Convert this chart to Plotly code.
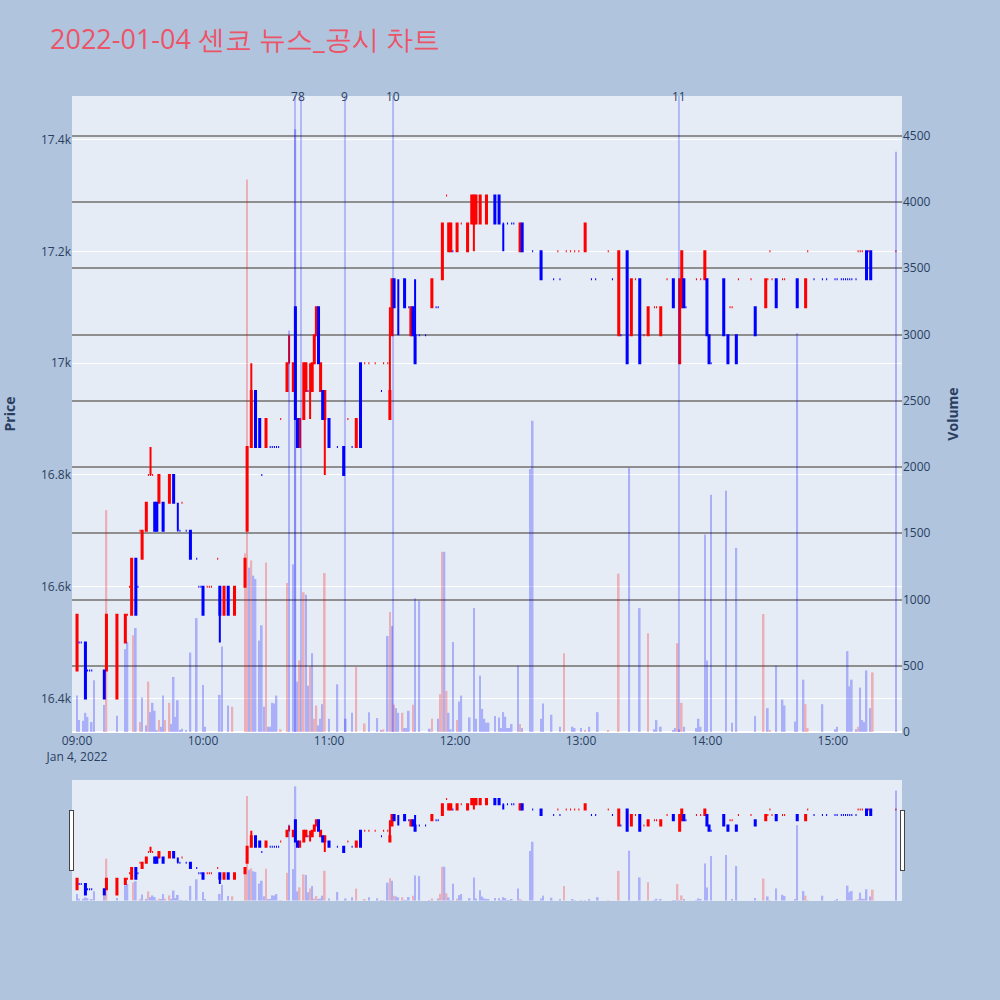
import plotly.graph_objects as go
from plotly.subplots import make_subplots

DATE = "2022-01-04"
TITLE = "2022-01-04 센코 뉴스_공시 차트"

# ---- minute candles ----
c_time = ["09:00","09:01","09:02","09:04","09:05","09:06","09:07","09:13","09:14","09:19",
          "09:23","09:24","09:25","09:26","09:28","09:29","09:30","09:31","09:33","09:34",
          "09:35","09:36","09:37","09:38","09:39","09:41","09:44","09:46","09:48","09:49",
          "09:50","09:52","09:54","09:57","09:58","09:59","10:00","10:02","10:03","10:04",
          "10:07","10:08","10:10","10:12","10:15","10:20","10:21","10:23","10:25","10:27",
          "10:28","10:30","10:32","10:33","10:34","10:35","10:36","10:37","10:40","10:41",
          "10:43","10:44","10:45","10:46","10:48","10:49","10:50","10:51","10:52","10:53",
          "10:54","10:55","10:56","10:57","10:58","11:00","11:04","11:07","11:09","11:11",
          "11:13","11:15","11:17","11:19","11:22","11:25","11:26","11:28","11:29","11:30",
          "11:31","11:33","11:36","11:38","11:39","11:40","11:41","11:43","11:46","11:49",
          "11:51","11:52","11:54","11:56","11:57","11:58","11:59","12:01","12:03","12:06",
          "12:08","12:09","12:10","12:12","12:15","12:19","12:21","12:23","12:25","12:27",
          "12:28","12:31","12:32","12:37","12:41","12:47","12:49","12:50","12:53","12:55",
          "12:57","12:59","13:02","13:05","13:07","13:13","13:15","13:18","13:19","13:22",
          "13:24","13:26","13:28","13:30","13:32","13:35","13:36","13:38","13:41","13:44",
          "13:47","13:48","13:49","13:50","13:55","13:57","13:59","14:00","14:01","14:02",
          "14:08","14:10","14:11","14:12","14:14","14:15","14:21","14:23","14:28","14:29",
          "14:30","14:31","14:33","14:36","14:37","14:43","14:47","14:48","14:51","14:55",
          "14:57","15:01","15:02","15:04","15:05","15:06","15:07","15:08","15:09","15:11",
          "15:12","15:13","15:14","15:16","15:17","15:18","15:30"]
c_open = [16450,16500,16500,16500,16450,16450,16450,16450,16450,16400,
          16500,16550,16600,16550,16650,16600,16700,16650,16700,16800,
          16800,16800,16750,16750,16750,16750,16750,16800,16700,16700,
          16750,16700,16700,16650,16600,16600,16600,16600,16600,16600,
          16650,16600,16550,16600,16550,16600,16700,16850,16950,16900,
          16800,16850,16850,16850,16850,16850,16850,16900,16950,17000,
          16950,17100,16900,16850,16900,16950,16950,16950,16950,17000,
          17050,17100,16950,16950,16900,16900,16850,16850,16900,16850,
          16850,17000,17000,17000,17000,16950,17000,17000,16900,17050,
          17150,17100,17150,17100,17050,17100,17050,17050,17050,17100,
          17100,17100,17150,17300,17200,17200,17200,17200,17250,17200,
          17250,17250,17250,17250,17250,17300,17300,17250,17250,17250,
          17250,17200,17250,17200,17200,17150,17200,17150,17200,17200,
          17200,17200,17200,17150,17150,17200,17150,17050,17050,17200,
          17050,17150,17150,17050,17050,17100,17100,17050,17150,17150,
          17000,17100,17150,17100,17150,17150,17150,17150,17050,17000,
          17150,17050,17100,17100,17050,17150,17150,17100,17100,17150,
          17200,17150,17150,17150,17150,17150,17100,17200,17150,17150,
          17150,17150,17150,17150,17150,17150,17150,17150,17150,17150,
          17200,17200,17200,17200,17200,17200,17200]
c_high = [16550,16500,16500,16500,16450,16450,16450,16450,16550,16550,
          16550,16550,16600,16650,16650,16600,16700,16700,16750,16800,
          16850,16800,16750,16750,16800,16750,16800,16800,16750,16700,
          16750,16700,16700,16650,16600,16600,16600,16600,16600,16600,
          16650,16600,16600,16600,16600,16650,16850,17000,16950,16900,
          16800,16900,16850,16850,16850,16850,16850,16900,17000,17050,
          17000,17100,16900,16900,17000,17000,16950,17000,17000,17050,
          17100,17100,17000,16950,16950,16900,16850,16850,16900,16850,
          16900,17000,17000,17000,17000,16950,17000,17000,17100,17150,
          17150,17150,17150,17100,17100,17100,17150,17050,17050,17150,
          17100,17100,17250,17300,17250,17250,17200,17250,17250,17250,
          17300,17300,17300,17300,17300,17300,17300,17250,17250,17250,
          17250,17250,17250,17200,17200,17150,17200,17150,17200,17200,
          17200,17200,17250,17150,17150,17200,17150,17200,17050,17200,
          17150,17150,17150,17050,17100,17100,17100,17100,17150,17150,
          17150,17200,17150,17100,17150,17150,17200,17150,17050,17000,
          17150,17050,17100,17100,17050,17150,17150,17100,17150,17150,
          17200,17150,17150,17150,17150,17150,17150,17200,17150,17150,
          17150,17150,17150,17150,17150,17150,17150,17150,17150,17150,
          17200,17200,17200,17200,17200,17200,17200]
c_low = [16450,16500,16500,16400,16450,16450,16450,16400,16450,16400,
         16500,16550,16600,16550,16550,16600,16700,16650,16700,16800,
         16800,16800,16700,16700,16750,16700,16750,16750,16700,16700,
         16750,16700,16650,16650,16600,16600,16550,16600,16600,16600,
         16650,16500,16550,16550,16550,16600,16700,16850,16850,16850,
         16800,16850,16850,16850,16850,16850,16850,16900,16950,17000,
         16950,16900,16850,16850,16900,16950,16950,16900,16950,17000,
         17050,17000,16950,16900,16800,16850,16850,16800,16900,16850,
         16850,16850,17000,17000,17000,16950,17000,17000,16900,17050,
         17100,17050,17100,17100,17050,17050,17000,17050,17050,17100,
         17100,17100,17150,17300,17200,17200,17200,17200,17250,17200,
         17250,17200,17250,17250,17250,17250,17250,17200,17250,17250,
         17250,17200,17200,17200,17150,17150,17200,17150,17200,17200,
         17200,17200,17200,17150,17150,17200,17150,17050,17050,17000,
         17050,17150,17000,17050,17050,17100,17100,17050,17150,17100,
         17000,17100,17100,17100,17150,17150,17150,17050,17000,17000,
         17050,17000,17100,17100,17000,17150,17150,17050,17100,17150,
         17200,17150,17100,17150,17150,17100,17100,17200,17150,17150,
         17150,17150,17150,17150,17150,17150,17150,17150,17150,17150,
         17200,17200,17200,17150,17200,17150,17200]
c_close = [16550,16500,16500,16400,16450,16450,16450,16400,16550,16550,
           16550,16550,16600,16650,16550,16600,16700,16700,16750,16800,
           16800,16800,16700,16700,16800,16700,16800,16750,16700,16700,
           16750,16700,16650,16650,16600,16600,16550,16600,16600,16600,
           16650,16550,16600,16550,16600,16650,16850,16950,16850,16850,
           16800,16900,16850,16850,16850,16850,16850,16900,17000,17000,
           17000,16900,16850,16900,17000,17000,16950,16950,17000,17050,
           17100,17000,17000,16900,16950,16850,16850,16800,16900,16850,
           16900,16850,17000,17000,17000,16950,17000,17000,16950,17150,
           17100,17100,17100,17100,17100,17050,17000,17050,17050,17150,
           17100,17100,17250,17300,17250,17250,17200,17250,17250,17250,
           17300,17300,17300,17300,17300,17250,17250,17250,17250,17250,
           17250,17250,17200,17200,17150,17150,17200,17150,17200,17200,
           17200,17200,17250,17150,17150,17200,17150,17200,17050,17000,
           17150,17150,17000,17050,17100,17100,17100,17100,17150,17100,
           17150,17200,17100,17100,17150,17150,17200,17050,17000,17000,
           17050,17000,17100,17100,17000,17150,17150,17050,17150,17150,
           17200,17150,17100,17150,17150,17100,17150,17200,17150,17150,
           17150,17150,17150,17150,17150,17150,17150,17150,17150,17150,
           17200,17200,17200,17150,17200,17150,17200]
c_color = ["r","b","b","b","b","b","b","b","r","r",
           "r","r","r","r","b","b","r","r","r","r",
           "r","r","b","b","r","b","r","b","b","b",
           "r","b","b","b","b","b","b","r","r","r",
           "r","b","r","b","r","r","r","r","b","b",
           "b","r","b","b","b","b","b","r","r","r",
           "r","b","b","r","r","r","b","r","r","r",
           "r","b","r","b","r","b","b","b","r","b",
           "r","b","r","r","r","b","r","r","r","r",
           "b","b","b","b","r","b","b","b","b","r",
           "b","b","r","r","r","r","b","r","r","r",
           "r","r","r","r","r","b","b","b","b","b",
           "b","r","b","b","b","b","r","b","r","r",
           "r","r","r","b","b","r","b","r","b","b",
           "r","r","b","r","r","r","r","r","r","b",
           "r","r","b","b","r","r","r","b","b","b",
           "b","b","r","r","b","r","r","b","r","r",
           "r","r","b","r","r","b","r","r","b","b",
           "b","b","b","b","b","b","b","b","b","b",
           "r","r","r","b","r","b","r"]

# ---- minute volume ----
v_time = ["09:00","09:01","09:03","09:04","09:05","09:07","09:08","09:13","09:14","09:19",
          "09:23","09:24","09:27","09:28","09:30","09:31","09:33","09:34","09:35","09:36",
          "09:37","09:38","09:39","09:40","09:41","09:42","09:44","09:45","09:46","09:47",
          "09:48","09:49","09:50","09:52","09:54","09:57","10:00","10:01","10:08","10:09",
          "10:12","10:14","10:20","10:21","10:22","10:23","10:24","10:25","10:27","10:28",
          "10:29","10:30","10:31","10:32","10:33","10:34","10:35","10:37","10:40","10:41",
          "10:43","10:44","10:45","10:46","10:48","10:49","10:50","10:51","10:52","10:53",
          "10:54","10:55","10:56","10:57","10:58","11:00","11:04","11:08","11:11","11:13",
          "11:17","11:19","11:23","11:25","11:26","11:28","11:29","11:30","11:31","11:32",
          "11:33","11:35","11:36","11:37","11:38","11:40","11:41","11:43","11:48","11:49",
          "11:52","11:53","11:54","11:55","11:56","11:57","11:58","11:59","12:01","12:02",
          "12:03","12:07","12:09","12:10","12:12","12:13","12:14","12:15","12:16","12:19",
          "12:21","12:22","12:23","12:24","12:25","12:26","12:27","12:30","12:31","12:32",
          "12:36","12:37","12:41","12:42","12:46","12:50","12:52","12:56","12:57","13:00",
          "13:02","13:04","13:08","13:13","13:18","13:23","13:28","13:32","13:35","13:36",
          "13:38","13:44","13:45","13:46","13:47","13:48","13:49","13:55","13:56","13:57",
          "13:59","14:00","14:02","14:09","14:12","14:14","14:23","14:27","14:29","14:30",
          "14:33","14:36","14:37","14:42","14:43","14:46","14:47","14:48","14:55","15:01",
          "15:02","15:07","15:08","15:09","15:11","15:12","15:13","15:14","15:15","15:16",
          "15:18","15:19","15:30"]
v_value = [275,90,85,145,114,76,390,205,1675,122,
           625,680,730,785,76,260,50,380,150,220,
           160,15,90,40,275,90,220,60,415,114,
           240,15,25,10,600,860,355,40,280,645,
           200,190,1350,4170,1240,1295,1180,1155,690,805,
           190,1280,40,40,220,215,275,20,1125,3030,
           1265,4550,380,540,1055,1035,350,495,595,100,
           200,50,100,210,1200,100,360,100,145,490,
           65,150,105,15,20,725,905,800,205,180,
           145,145,30,30,160,205,1010,990,25,100,
           100,285,1360,1360,310,145,20,680,90,230,
           275,110,935,100,425,175,100,70,70,120,
           110,30,150,115,30,30,60,500,60,30,
           1985,2350,100,215,130,40,595,40,30,30,
           10,40,150,10,1195,1995,935,745,20,90,
           40,15,30,670,20,220,40,30,100,40,
           1490,540,1790,1820,70,1390,120,890,180,10,
           500,245,200,80,3010,395,210,30,210,20,
           40,610,345,395,20,40,335,90,75,465,
           180,450,4380]
v_color = ["b","b","b","b","b","b","b","b","r","b",
           "b","b","r","b","r","b","b","r","b","b",
           "b","b","r","b","b","r","r","b","b","b",
           "b","b","b","b","b","b","b","b","b","b",
           "b","r","r","r","b","r","b","b","b","b",
           "b","r","b","b","b","b","b","r","r","b",
           "b","b","b","r","r","b","b","r","b","r",
           "r","b","b","b","r","b","b","b","b","r",
           "r","b","b","b","r","b","r","b","r","b",
           "b","r","b","b","b","r","b","b","b","r",
           "b","r","r","b","r","b","b","b","r","b",
           "b","b","b","b","b","b","b","b","b","b",
           "b","b","b","b","b","b","b","b","r","b",
           "b","b","b","b","b","b","r","b","b","b",
           "r","b","b","r","r","b","b","r","b","b",
           "b","b","b","r","b","r","b","b","b","b",
           "b","b","b","b","b","b","b","r","b","r",
           "b","b","b","b","b","b","r","r","b","b",
           "b","b","b","b","b","r","b","b","b","b",
           "b","r","b"]

# ---- news / disclosure markers ----
news_time = ["10:43:48", "10:46:40", "11:07:36", "11:30:30", "13:46:40"]
news_label = ["7", "8", "9", "10", "11"]

RED, BLUE = "#FF0000", "#0000FF"
ts = lambda t: f"{DATE} {t}"

fig = make_subplots(specs=[[{"secondary_y": True}]])

for key, col in (("r", RED), ("b", BLUE)):
    idx = [i for i, c in enumerate(c_color) if c == key]
    fig.add_trace(go.Candlestick(
        x=[ts(c_time[i]) for i in idx],
        open=[c_open[i] for i in idx], high=[c_high[i] for i in idx],
        low=[c_low[i] for i in idx], close=[c_close[i] for i in idx],
        increasing=dict(line=dict(color=col), fillcolor=col),
        decreasing=dict(line=dict(color=col), fillcolor=col),
        showlegend=False), secondary_y=False)

fig.add_trace(go.Bar(
    x=[ts(t) for t in v_time], y=v_value,
    marker=dict(color=[RED if c == "r" else BLUE for c in v_color], line_width=0),
    opacity=0.25, showlegend=False), secondary_y=True)

for t, lab in zip(news_time, news_label):
    fig.add_shape(type="line", xref="x", yref="paper", x0=ts(t), x1=ts(t), y0=0, y1=1,
                  line=dict(color=BLUE, width=2), opacity=0.22)
    fig.add_annotation(x=ts(t), xref="x", yref="paper", y=1, yanchor="middle",
                       text=lab, showarrow=False, font=dict(size=12, color="#2a3f5f"))

fig.update_layout(
    width=1000, height=1000,
    paper_bgcolor="#B0C4DE", plot_bgcolor="#E5ECF6",
    margin=dict(l=72, r=98, t=96, b=100),
    title=dict(text=TITLE, x=0.05, y=0.96, yanchor="middle",
               font=dict(size=27, color="#EC5468")),
    showlegend=False, bargap=0.2,
)
fig.update_xaxes(type="date", domain=[0, 1], range=[ts("08:57:36"), ts("15:32:54")],
                 dtick=3600000, tick0=ts("09:00"), automargin=False,
                 rangeslider=dict(visible=True, thickness=0.15, bgcolor="#E5ECF6"))
fig.update_yaxes(title=dict(text="<b>Price</b>", standoff=22), range=[16340, 17478],
                 dtick=200, automargin=False, secondary_y=False)
fig.update_yaxes(title=dict(text="<b>Volume</b>", standoff=18), range=[0, 4800], dtick=500,
                 automargin=False, showgrid=True, gridcolor="#8f8f8f", gridwidth=1.5,
                 secondary_y=True)

fig.write_html("out.html", config={"displayModeBar": False},
               post_script="document.body.style.margin='0';document.body.style.overflow='hidden';")
